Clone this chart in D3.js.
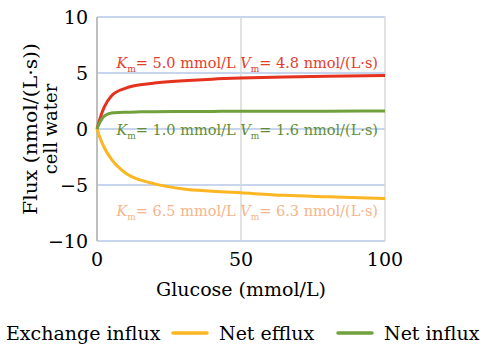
<!DOCTYPE html>
<html>
<head>
<meta charset="utf-8">
<script src="https://cdn.jsdelivr.net/npm/d3@7"></script>
<style>
	body { margin: 0; background: #fff; }
	svg { display: block; font-family: "DejaVu Serif", "Liberation Serif", serif; }
</style>
</head>
<body>
<svg id="chart" width="487" height="348"></svg>
<script>
// values
const glucose = [0, 1, 2.5, 5, 10, 15, 20, 30, 40, 50, 65, 80, 100];
const exchangeInflux = [0, 0.9, 1.95, 2.95, 3.65, 3.95, 4.1, 4.3, 4.45, 4.55, 4.65, 4.72, 4.78];
const netInflux = [0, 0.6, 1.15, 1.42, 1.5, 1.53, 1.55, 1.56, 1.57, 1.58, 1.58, 1.59, 1.6];
const netEfflux = [0, -0.75, -1.65, -2.7, -3.95, -4.55, -4.9, -5.35, -5.55, -5.7, -5.92, -6.05, -6.2];

const xTicks = [0, 50, 100];
const yTicks = [-10, -5, 0, 5, 10];

const series = [
	{ name: "Exchange influx", values: exchangeInflux, color: "#e4321f" },
	{ name: "Net efflux", values: netEfflux, color: "#fbb622" },
	{ name: "Net influx", values: netInflux, color: "#70a13c" },
];

const notes = [
	{ km: "5.0", vm: "4.8", color: "#e43c2a", y: 68 },
	{ km: "1.0", vm: "1.6", color: "#5f8e34", y: 135 },
	{ km: "6.5", vm: "6.3", color: "#f5b48a", y: 216 },
];

const svg = d3.select("#chart");
const x = d3.scaleLinear().domain([0, 100]).range([97, 385]);
const y = d3.scaleLinear().domain([-10, 10]).range([241, 17]);

// gridlines
svg.append("g").selectAll("line.h")
	.data(yTicks)
	.enter().append("line")
	.attr("x1", x(0)).attr("x2", x(100))
	.attr("y1", (d) => y(d)).attr("y2", (d) => y(d))
	.attr("stroke", "#b4c7e7").attr("stroke-width", 1.5);

svg.append("g").selectAll("line.v")
	.data(xTicks.slice(1))
	.enter().append("line")
	.attr("x1", (d) => x(d)).attr("x2", (d) => x(d))
	.attr("y1", y(10)).attr("y2", y(-10))
	.attr("stroke", "#d9d9d9").attr("stroke-width", 1.5);

svg.append("line")
	.attr("x1", x(0)).attr("x2", x(0))
	.attr("y1", y(10)).attr("y2", y(-10))
	.attr("stroke", "#bfbfbf").attr("stroke-width", 2);

// tick labels
svg.append("g").selectAll("text")
	.data(yTicks)
	.enter().append("text")
	.attr("x", 88).attr("y", (d) => y(d) + 7)
	.attr("text-anchor", "end")
	.attr("font-size", 19)
	.attr("fill", "#000")
	.text((d) => (d < 0 ? "\u2212" + Math.abs(d) : d));

svg.append("g").selectAll("text")
	.data(xTicks)
	.enter().append("text")
	.attr("x", (d) => x(d)).attr("y", 266)
	.attr("text-anchor", "middle")
	.attr("font-size", 19)
	.attr("fill", "#000")
	.text((d) => d);

// axis titles
svg.append("text")
	.attr("x", 241).attr("y", 296)
	.attr("text-anchor", "middle")
	.attr("font-size", 19)
	.text("Glucose (mmol/L)");

const yTitle = svg.append("text")
	.attr("transform", "translate(37,129) rotate(-90)")
	.attr("text-anchor", "middle")
	.attr("font-size", 18);
yTitle.append("tspan").attr("x", 0).attr("y", 0)
	.attr("textLength", 172).attr("lengthAdjust", "spacingAndGlyphs")
	.text("Flux (nmol/(L\u00b7s))");
yTitle.append("tspan").attr("x", 0).attr("y", 20).text("cell water");

// curves
const line = d3.line()
	.x((d, i) => x(glucose[i]))
	.y((d) => y(d))
	.curve(d3.curveMonotoneX);

svg.append("g").selectAll("path")
	.data(series)
	.enter().append("path")
	.attr("d", (d) => line(d.values))
	.attr("fill", "none")
	.attr("stroke", (d) => d.color)
	.attr("stroke-width", 3);

// Km / Vm annotations
notes.forEach((n) => {
	const t = svg.append("text")
		.attr("x", 378).attr("y", n.y)
		.attr("text-anchor", "end")
		.attr("font-size", 14.5)
		.attr("fill", n.color);
	t.append("tspan").attr("font-style", "italic").text("K");
	t.append("tspan").attr("font-size", 9).attr("dy", 4).text("m");
	t.append("tspan").attr("dy", -4).text(`= ${n.km} mmol/L `);
	t.append("tspan").attr("font-style", "italic").text("V");
	t.append("tspan").attr("font-size", 9).attr("dy", 4).text("m");
	t.append("tspan").attr("dy", -4).text(`= ${n.vm} nmol/(L\u00b7s)`);
});

// legend (first swatch sits off the left edge)
const legendX = [-40, 173, 338];
const legend = svg.append("g").selectAll("g")
	.data(series)
	.enter().append("g")
	.attr("transform", (d, i) => `translate(${legendX[i]},333)`);

legend.append("line")
	.attr("x1", 0).attr("x2", 34)
	.attr("stroke", (d) => d.color)
	.attr("stroke-width", 3.5)
	.attr("stroke-linecap", "round");

legend.append("text")
	.attr("x", 46).attr("y", 7)
	.attr("font-size", 19)
	.text((d) => d.name);
</script>
</body>
</html>
